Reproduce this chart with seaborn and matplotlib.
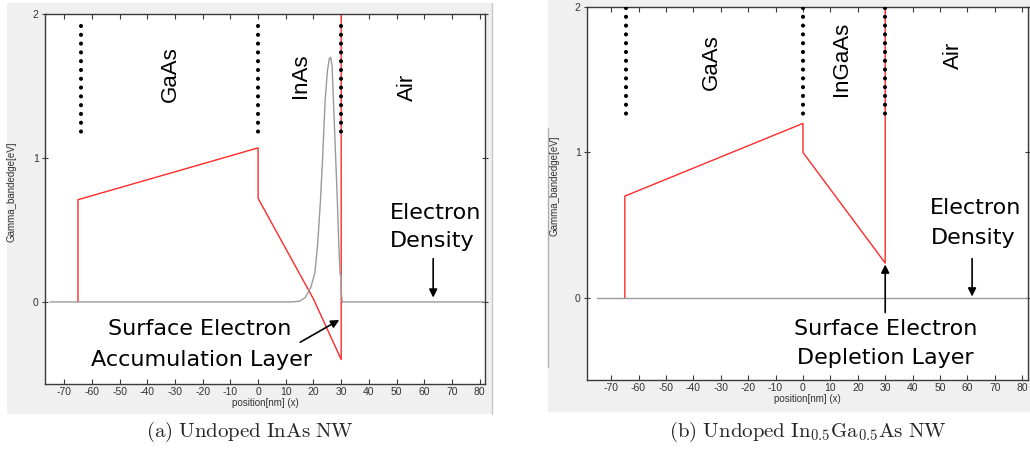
import matplotlib
matplotlib.use("Agg")
import matplotlib.pyplot as plt
from matplotlib.patches import Rectangle
from matplotlib.lines import Line2D
import seaborn as sns
import pandas as pd

# ---- band-edge profiles (position in nm, energy in eV) ----
inas_band_x = [-65, -65, 0, 0, 20, 30, 30]
inas_band_y = [0.0, 0.71, 1.07, 0.72, 0.02, -0.40, 2.5]

inas_density_x = [-75, 12, 15, 17, 19, 20.5, 21.5, 22.5, 23.3, 24.2, 25.0, 25.7,
                  26.2, 26.7, 27.2, 27.9, 28.6, 29.1, 29.6, 30.0, 30.0, 30.4, 82]
inas_density_y = [0.0, 0.0, 0.005, 0.03, 0.10, 0.20, 0.40, 0.70, 1.00, 1.40, 1.60, 1.69,
                  1.70, 1.64, 1.40, 1.05, 0.71, 0.42, 0.19, 0.19, 0.07, 0.0, 0.0]

ingaas_band_x = [-65, -65, 0, 0, 30, 30]
ingaas_band_y = [0.0, 0.70, 1.20, 1.00, 0.24, 2.5]

ingaas_density_x = [-75, 82]
ingaas_density_y = [0.0, 0.0]

# ---- layer boundaries and labels ----
inas_boundaries = [-64, 0, 30]
ingaas_boundaries = [-64.5, 0, 30]
inas_layers = ["GaAs", "InAs", "Air"]
inas_layer_x = [-31.8, 15.2, 54.0]
inas_layer_y = [1.58, 1.57, 1.49]
ingaas_layers = ["GaAs", "InGaAs", "Air"]
ingaas_layer_x = [-33.5, 14.2, 55.0]
ingaas_layer_y = [1.62, 1.64, 1.67]

x_ticks = list(range(-70, 81, 10))
y_ticks = [0, 1, 2]

sns.set_theme(style="white")
plt.rcParams["mathtext.fontset"] = "cm"

fig = plt.figure(figsize=(10.3, 4.5), dpi=100)
fig.patch.set_facecolor("white")

W, H = 1030.0, 450.0


def px_rect(x0, y0, x1, y1):
    return (x0 / W, 1 - y1 / H, (x1 - x0) / W, (y1 - y0) / H)


# light grey window backgrounds behind each plot
for (x0, y0, x1, y1) in [(7, 3, 492, 414), (548, 0, 1030, 412)]:
    fx, fy, fw, fh = px_rect(x0, y0, x1, y1)
    fig.add_artist(Rectangle((fx, fy), fw, fh, transform=fig.transFigure,
                             facecolor="#f0f0f0", edgecolor="none", zorder=-10))
fig.add_artist(Line2D([492 / W, 492 / W], [1 - 3 / H, 1 - 414 / H],
                      transform=fig.transFigure, color="#c8c8c8", lw=1, zorder=-9))
fig.add_artist(Line2D([548 / W, 548 / W], [1 - 128 / H, 1 - 367 / H],
                      transform=fig.transFigure, color="#b0b0b0", lw=1, zorder=-9))

ax1 = fig.add_axes(px_rect(45, 14, 485, 384))
ax2 = fig.add_axes(px_rect(587, 7, 1028, 380))

tick_font = dict(family="Liberation Sans", size=7.5)


def style_axes(ax, xlim, ylim):
    ax.set_facecolor("white")
    ax.set_xlim(*xlim)
    ax.set_ylim(*ylim)
    ax.set_xticks(x_ticks)
    ax.set_yticks(y_ticks)
    ax.set_xticklabels([str(t) for t in x_ticks], **tick_font, color="#333333")
    ax.set_yticklabels([str(t) for t in y_ticks], **tick_font, color="#333333")
    for s in ax.spines.values():
        s.set_visible(True)
        s.set_color("#3a3a3a")
        s.set_linewidth(1.0)
    ax.tick_params(axis="x", direction="in", length=3.5, width=0.8, color="#3a3a3a",
                   top=True, bottom=True, pad=2)
    ax.tick_params(axis="y", direction="inout", length=5, width=0.8, color="#3a3a3a",
                   left=True, right=True, pad=2)
    ax.set_xlabel("position[nm] (x)", family="Liberation Sans", size=7, color="#333333",
                  labelpad=1)
    ax.set_ylabel("Gamma_bandedge[eV]", family="Liberation Sans", size=7, color="#333333")


def draw_panel(ax, bx, by, dx, dy, bounds, dot_top, dot_bottom,
               layers, lx, ly):
    sns.lineplot(data=pd.DataFrame({"x": bx, "y": by}), x="x", y="y", sort=False,
                 estimator=None, color="#ff2a2a", lw=1.0, ax=ax)
    sns.lineplot(data=pd.DataFrame({"x": dx, "y": dy}), x="x", y="y", sort=False,
                 estimator=None, color="#9a9a9a", lw=1.0, ax=ax)
    for b in bounds:
        ax.plot([b, b], [dot_top, dot_bottom], color="black", lw=3.0,
                linestyle=(0, (0.01, 2.1)), dash_capstyle="round", zorder=4)
    for name, x, y in zip(layers, lx, ly):
        ax.text(x, y, name, rotation=90, ha="center", va="center",
                family="Liberation Sans", size=16, color="black")


draw_panel(ax1, inas_band_x, inas_band_y, inas_density_x, inas_density_y,
           inas_boundaries, 1.92, 1.17, inas_layers, inas_layer_x, inas_layer_y)
draw_panel(ax2, ingaas_band_x, ingaas_band_y, ingaas_density_x, ingaas_density_y,
           ingaas_boundaries, 1.99, 1.24, ingaas_layers, ingaas_layer_x, ingaas_layer_y)

style_axes(ax1, (-76.9, 81.9), (-0.57, 2.0))
style_axes(ax2, (-78.8, 82.1), (-0.564, 2.0))
ax1.yaxis.set_label_coords(-0.064, 0.52)
ax2.yaxis.set_label_coords(-0.062, 0.52)

note = dict(family="DejaVu Sans", size=16, color="black", ha="center", va="center")
arrow = dict(arrowstyle="-|>", color="black", lw=1.2, mutation_scale=12,
             shrinkA=0, shrinkB=0)

# panel (a) annotations
ax1.text(-21, -0.19, "Surface Electron", **note)
ax1.text(-20.5, -0.40, "Accumulation Layer", **note)
ax1.annotate("", xy=(29.3, -0.125), xytext=(15.2, -0.28), arrowprops=arrow)
ax1.text(64, 0.62, "Electron", **note)
ax1.text(63, 0.42, "Density", **note)
ax1.annotate("", xy=(63.2, 0.03), xytext=(63.2, 0.30), arrowprops=arrow)

# panel (b) annotations
ax2.text(30, -0.21, "Surface Electron", **note)
ax2.text(30, -0.41, "Depletion Layer", **note)
ax2.annotate("", xy=(30, 0.23), xytext=(30, -0.10), arrowprops=arrow)
ax2.text(63, 0.62, "Electron", **note)
ax2.text(62, 0.41, "Density", **note)
ax2.annotate("", xy=(61.7, 0.01), xytext=(61.7, 0.27), arrowprops=arrow)

# sub-figure captions
fig.text(250 / W, 1 - 432 / H, r"$\mathrm{(a)\ Undoped\ InAs\ NW}$",
         ha="center", va="center", size=15)
fig.text(808 / W, 1 - 432 / H, r"$\mathrm{(b)\ Undoped\ In_{0.5}Ga_{0.5}As\ NW}$",
         ha="center", va="center", size=15)

fig.savefig("out.png", dpi=100, facecolor="white")
